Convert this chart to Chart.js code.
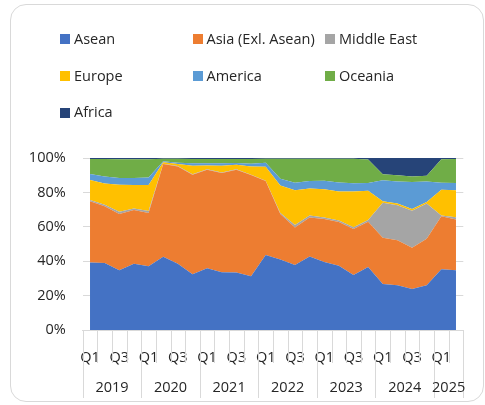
<!DOCTYPE html>
<html>
<head>
<meta charset="utf-8">
<script src="https://cdn.jsdelivr.net/npm/chart.js@4"></script>
<style>
  html, body { margin: 0; padding: 0; background: #fff; }
  #wrap { position: relative; width: 485px; height: 405px; overflow: hidden; font-family: "Open Sans", sans-serif; }
  #frame { position: absolute; left: 10px; top: 4px; width: 472px; height: 396px; border: 1.5px solid #d9d9d9; border-radius: 16px; }
  #chart { position: absolute; left: 0; top: 0; }
  .lg { position: absolute; display: flex; align-items: center; font-size: 14.5px; color: #262626; white-space: nowrap; line-height: 1; }
  .lg i { display: inline-block; width: 10px; height: 10px; margin-right: 4px; }
</style>
</head>
<body>
<div id="wrap">
  <div id="frame"></div>
  <canvas id="chart" width="485" height="405"></canvas>
  <div id="legend"></div>
</div>
<script>
// quarters 2019 Q1 .. 2025 Q2
const years = ['2019', '2020', '2021', '2022', '2023', '2024', '2025']
const quarters = ['Q1','Q2','Q3','Q4','Q1','Q2','Q3','Q4','Q1','Q2','Q3','Q4','Q1','Q2','Q3','Q4',
                  'Q1','Q2','Q3','Q4','Q1','Q2','Q3','Q4','Q1','Q2']

// share of arrivals by region, % of total
const asean   = [39.3,39.0,34.8,38.5,37.0,42.6,38.5,32.4,35.9,33.6,33.4,31.3,43.6,41.0,37.8,42.7,39.6,37.4,32.0,36.6,26.8,26.0,23.8,26.0,35.3,34.8]
const asia    = [35.5,33.0,32.6,31.2,31.0,53.9,56.6,57.9,57.3,57.7,59.8,58.8,43.0,26.4,21.8,22.7,24.9,25.4,26.7,26.4,26.8,26.2,24.0,27.0,30.8,29.5]
const mideast = [0.8,0.8,1.3,1.0,1.2,0.2,0.2,0.2,0.2,0.2,0.2,0.2,0.2,0.6,1.4,1.1,0.9,0.9,1.1,1.0,20.4,20.4,21.5,20.6,0.5,1.3]
const europe  = [11.6,12.4,15.8,13.6,15.1,0.8,1.2,5.0,2.3,4.0,2.7,4.8,8.1,16.0,20.2,15.7,16.5,16.8,20.7,17.0,0.9,1.0,1.1,0.8,15.0,15.6]
const america = [3.5,4.1,3.8,4.0,4.4,0.6,0.8,1.4,1.2,1.4,1.0,1.6,2.4,4.0,4.4,4.4,4.9,5.2,4.8,4.5,12.1,12.7,15.6,11.9,4.0,4.3]
const oceania = [8.7,10.1,11.0,11.0,10.6,1.5,2.2,2.5,2.5,2.5,2.3,2.7,2.2,11.5,14.0,13.0,12.8,13.9,14.3,13.7,3.5,3.7,3.2,3.4,13.7,13.9]
const africa  = [0.6,0.6,0.7,0.7,0.7,0.4,0.5,0.6,0.6,0.6,0.6,0.6,0.5,0.5,0.4,0.4,0.4,0.4,0.4,0.8,9.5,10.0,10.8,10.3,0.7,0.6]
const yTicks = [0, 20, 40, 60, 80, 100]

const series = [
  ['Asean', asean, '#4472C4'],
  ['Asia (Exl. Asean)', asia, '#ED7D31'],
  ['Middle East', mideast, '#A5A5A5'],
  ['Europe', europe, '#FFC000'],
  ['America', america, '#5B9BD5'],
  ['Oceania', oceania, '#70AD47'],
  ['Africa', africa, '#264478']
]

const FONT = { family: '"Open Sans", sans-serif', size: 14.5 }
const TEXT = '#262626'
const LINE = '#d9d9d9'

// year group labels + divider lines under the axis
const groupAxis = {
  id: 'groupAxis',
  afterDraw(chart) {
    const x = chart.scales.x
    const ctx = chart.ctx
    const half = (x.getPixelForValue(1) - x.getPixelForValue(0)) / 2
    const top = chart.chartArea.bottom
    ctx.save()
    ctx.strokeStyle = LINE
    ctx.lineWidth = 1
    for (let i = 0; i <= quarters.length; i++) {
      const px = Math.round(x.getPixelForValue(i) - half) + 0.5
      const isYear = i % 4 === 0 || i === quarters.length
      ctx.beginPath()
      ctx.moveTo(px, top)
      ctx.lineTo(px, isYear ? top + 68 : top + 33)
      ctx.stroke()
    }
    ctx.fillStyle = TEXT
    ctx.font = FONT.size + 'px ' + FONT.family
    ctx.textAlign = 'center'
    ctx.textBaseline = 'middle'
    years.forEach((y, k) => {
      const a = k * 4
      const b = Math.min(a + 3, quarters.length - 1)
      const cx = (x.getPixelForValue(a) + x.getPixelForValue(b)) / 2
      ctx.fillText(y, cx, top + 58)
    })
    ctx.restore()
  }
}

const chart = new Chart(document.getElementById('chart'), {
  type: 'line',
  data: {
    labels: quarters,
    datasets: series.map(([label, data, color], i) => ({
      label: label,
      data: data,
      backgroundColor: color,
      borderColor: color,
      borderWidth: 0,
      pointRadius: 0,
      tension: 0,
      fill: i === 0 ? 'origin' : '-1'
    }))
  },
  options: {
    responsive: false,
    animation: false,
    layout: { padding: { top: 158, right: 21.7, left: 0, bottom: 0 } },
    plugins: { legend: { display: false }, tooltip: { enabled: false } },
    scales: {
      x: {
        offset: true,
        grid: { display: false },
        border: { display: true, color: LINE, width: 1 },
        ticks: {
          autoSkip: false, maxRotation: 0, minRotation: 0, padding: 11,
          color: TEXT, font: FONT,
          callback: (v, i) => i % 2 === 0 ? quarters[i] : ''
        },
        afterFit: s => { s.height = 75 }
      },
      y: {
        stacked: true,
        min: 0, max: 100,
        afterBuildTicks: s => { s.ticks = yTicks.map(v => ({ value: v })) },
        grid: { color: LINE, drawTicks: false },
        border: { display: false },
        ticks: { padding: 17, color: TEXT, font: FONT, callback: v => v + '%' },
        afterFit: s => { s.width = 82.7 }
      }
    }
  },
  plugins: [groupAxis]
})

// legend laid out in three columns like the original
const legend = document.getElementById('legend')
chart.data.datasets.forEach((ds, k) => {
  const el = document.createElement('div')
  el.className = 'lg'
  el.style.left = (60 + (k % 3) * 132.5) + 'px'
  el.style.top = (32 + Math.floor(k / 3) * 36.7) + 'px'
  el.innerHTML = '<i style="background:' + ds.backgroundColor + '"></i>' + ds.label
  legend.appendChild(el)
})
</script>
</body>
</html>
